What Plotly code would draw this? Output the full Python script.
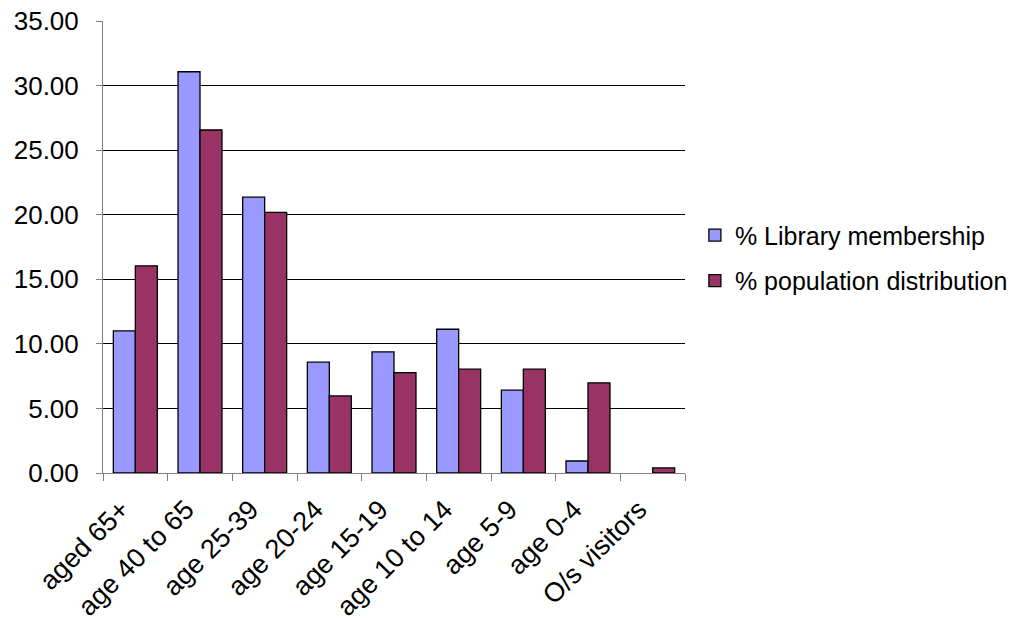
import plotly.graph_objects as go

categories = ["aged 65+", "age 40 to 65", "age 25-39", "age 20-24", "age 15-19",
              "age 10 to 14", "age 5-9", "age 0-4", "O/s visitors"]
library_membership = [11.00, 31.07, 21.36, 8.58, 9.38, 11.13, 6.41, 0.93, 0.00]
population_distribution = [16.04, 26.56, 20.18, 5.97, 7.78, 8.04, 8.04, 6.98, 0.39]

FONT = "Liberation Sans, Arial, sans-serif"


def outline_widths(values):
    # no outline on empty bars
    return [1.3 if v > 0 else 0 for v in values]


fig = go.Figure()
fig.add_trace(go.Bar(
    x=categories, y=library_membership, name="% Library membership",
    legendgroup="a",
    marker=dict(color="#9999FF",
                line=dict(color="#000000", width=outline_widths(library_membership))),
))
fig.add_trace(go.Bar(
    x=categories, y=population_distribution, name="% population distribution",
    legendgroup="b",
    marker=dict(color="#993366",
                line=dict(color="#000000", width=outline_widths(population_distribution))),
))

fig.update_layout(
    width=1017, height=621,
    margin=dict(l=103, r=332, t=21, b=148, autoexpand=False),
    paper_bgcolor="white", plot_bgcolor="white",
    barmode="group", bargap=0.32, bargroupgap=0,
    font=dict(family=FONT, size=26, color="black"),
    showlegend=True,
    legend=dict(
        x=1.017, xanchor="left", y=0.476, yanchor="middle",
        font=dict(family=FONT, size=25, color="black"),
        tracegroupgap=10, bgcolor="rgba(0,0,0,0)",
    ),
    xaxis=dict(
        type="category", tickangle=-45, tickson="boundaries",
        ticks="outside", ticklen=7, tickcolor="#808080",
        ticklabelstandoff=9, ticklabelshift=-14,
        showline=True, linecolor="#808080", linewidth=1,
        showgrid=False, tickfont=dict(family=FONT, size=27, color="black"),
    ),
    yaxis=dict(
        range=[0, 35], dtick=5, tickformat=".2f",
        ticks="outside", ticklen=6, tickcolor="#808080",
        ticklabelstandoff=12,
        showline=True, linecolor="#808080", linewidth=1,
        showgrid=True, gridcolor="#000000", gridwidth=1, zeroline=False,
        tickfont=dict(family=FONT, size=26, color="black"),
    ),
)

fig.write_html("out.html")
